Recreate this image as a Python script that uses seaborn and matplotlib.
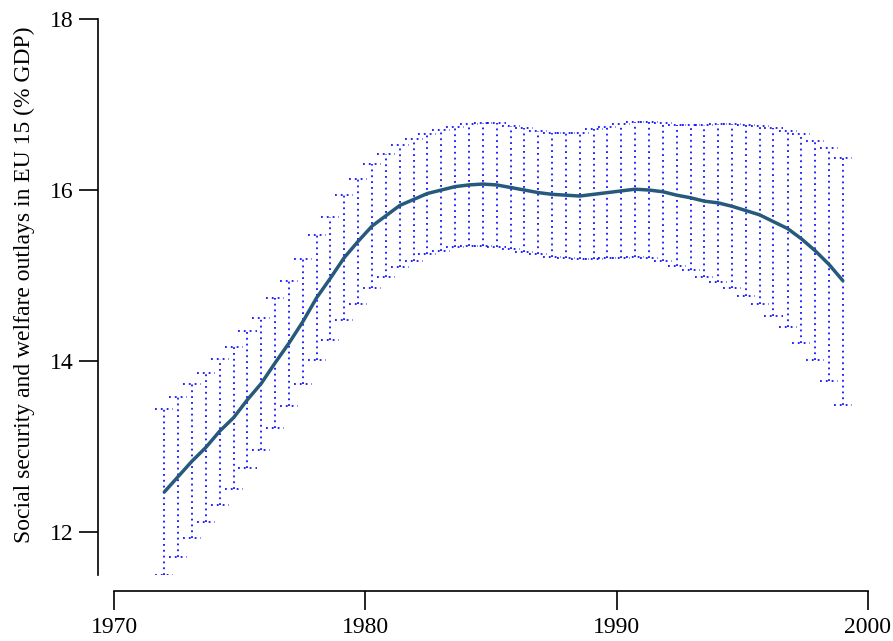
import numpy as np
import seaborn as sns
import matplotlib
import matplotlib.pyplot as plt
import pandas as pd

matplotlib.use("Agg")

# Evaluation grid (years) and the band
years = [1972.00, 1972.55, 1973.10, 1973.65, 1974.20, 1974.76, 1975.31, 1975.86, 1976.41, 1976.96,
         1977.51, 1978.06, 1978.61, 1979.16, 1979.71, 1980.27, 1980.82, 1981.37, 1981.92, 1982.47,
         1983.02, 1983.57, 1984.12, 1984.67, 1985.22, 1985.78, 1986.33, 1986.88, 1987.43, 1987.98,
         1988.53, 1989.08, 1989.63, 1990.18, 1990.73, 1991.29, 1991.84, 1992.39, 1992.94, 1993.49,
         1994.04, 1994.59, 1995.14, 1995.69, 1996.24, 1996.80, 1997.35, 1997.90, 1998.45, 1999.00]

outlays = [12.47, 12.65, 12.83, 12.99, 13.18, 13.34, 13.55, 13.74, 13.98, 14.21,
           14.46, 14.74, 14.97, 15.21, 15.40, 15.58, 15.70, 15.82, 15.89, 15.96,
           16.00, 16.04, 16.06, 16.07, 16.06, 16.03, 16.00, 15.97, 15.95, 15.94,
           15.93, 15.95, 15.97, 15.99, 16.01, 16.00, 15.98, 15.94, 15.91, 15.87,
           15.85, 15.81, 15.76, 15.71, 15.63, 15.55, 15.43, 15.29, 15.13, 14.94]

upper = [13.44, 13.58, 13.73, 13.86, 14.03, 14.16, 14.35, 14.51, 14.74, 14.94,
         15.19, 15.47, 15.69, 15.94, 16.13, 16.31, 16.42, 16.53, 16.60, 16.66,
         16.70, 16.74, 16.77, 16.78, 16.78, 16.75, 16.72, 16.69, 16.67, 16.67,
         16.67, 16.71, 16.74, 16.77, 16.79, 16.79, 16.78, 16.76, 16.76, 16.76,
         16.77, 16.77, 16.76, 16.75, 16.72, 16.69, 16.65, 16.57, 16.49, 16.38]

lower = [11.50, 11.71, 11.93, 12.12, 12.32, 12.51, 12.75, 12.96, 13.22, 13.47,
         13.73, 14.01, 14.25, 14.48, 14.67, 14.85, 14.98, 15.10, 15.17, 15.25,
         15.29, 15.33, 15.35, 15.35, 15.33, 15.31, 15.28, 15.25, 15.22, 15.20,
         15.19, 15.19, 15.20, 15.21, 15.22, 15.20, 15.17, 15.11, 15.06, 14.98,
         14.92, 14.85, 14.76, 14.67, 14.53, 14.40, 14.21, 14.01, 13.77, 13.49]

x_ticks = [1970, 1980, 1990, 2000]
y_ticks = [12, 14, 16, 18]

df = pd.DataFrame({"year": years, "outlays": outlays, "upper": upper, "lower": lower})

sns.set_style("ticks")
plt.rcParams["font.family"] = ["Liberation Serif", "DejaVu Serif"]
plt.rcParams["font.size"] = 17
for key in ["text.color", "axes.labelcolor", "xtick.color", "ytick.color", "axes.edgecolor"]:
    plt.rcParams[key] = "black"

fig = plt.figure(figsize=(8.93, 6.41), dpi=100)
ax = fig.add_axes([0.1277, 0.103, 0.8443, 0.8674])

# dotted error bars with dotted caps
dot = (0, (1.1, 2.4))
cap = 0.36
bar_kw = dict(colors="blue", linestyles=dot, linewidth=1.2)
ax.vlines(df["year"], df["lower"], df["upper"], **bar_kw)
ax.hlines(df["upper"], df["year"] - cap, df["year"] + cap, **bar_kw)
ax.hlines(df["lower"], df["year"] - cap, df["year"] + cap, **bar_kw)

sns.lineplot(data=df, x="year", y="outlays", ax=ax, color="#26597c", linewidth=2.5)

ax.set_xlim(1970, 2000)
ax.set_ylim(11.5, 18)
ax.set_xticks(x_ticks)
ax.set_yticks(y_ticks)
ax.set_xlabel("")
ax.set_ylabel("Social security and welfare outlays in EU 15 (% GDP)", fontsize=17)
ax.yaxis.set_label_coords(-0.105, 0.522)

for side in ["top", "right"]:
    ax.spines[side].set_visible(False)
ax.spines["left"].set_position(("outward", 11.5))
ax.spines["bottom"].set_position(("outward", 11.5))
for side in ["left", "bottom"]:
    ax.spines[side].set_linewidth(1.2)
ax.tick_params(direction="out", length=13.5, width=1.2, labelsize=17)
ax.tick_params(axis="x", pad=5)
ax.tick_params(axis="y", pad=4)

plt.savefig("out.png", dpi=100)
